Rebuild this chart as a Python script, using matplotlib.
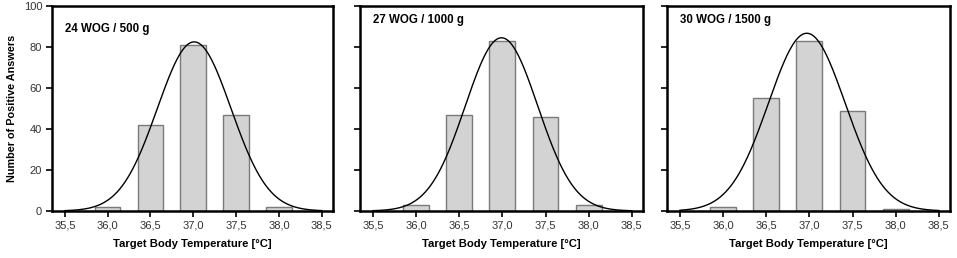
import numpy as np
import matplotlib.pyplot as plt

plt.rcParams['font.family'] = ['Liberation Sans', 'DejaVu Sans']

temps = [36.0, 36.5, 37.0, 37.5, 38.0]
counts_24 = [2, 42, 81, 47, 2]
counts_27 = [3, 47, 83, 46, 3]
counts_30 = [2, 55, 83, 49, 1]
panel_titles = ['24 WOG / 500 g', '27 WOG / 1000 g', '30 WOG / 1500 g']
# fitted normal curves: amplitude, mean, sigma
fit_amp = [82.5, 84.5, 86.7]
fit_mean = [37.01, 36.99, 36.97]
fit_sigma = [0.43, 0.42, 0.445]
xticks = [35.5, 36.0, 36.5, 37.0, 37.5, 38.0, 38.5]
yticks = [0, 20, 40, 60, 80, 100]

fig = plt.figure(figsize=(9.57, 2.58), dpi=100)
lefts = [0.0543, 0.3762, 0.697]
widths = [0.2936, 0.2957, 0.2957]
title_y = [89, 93, 93]

for i, counts in enumerate([counts_24, counts_27, counts_30]):
    ax = fig.add_axes([lefts[i], 0.1822, widths[i], 0.7946])
    ax.bar(temps, counts, width=0.3, color='#d3d3d3', edgecolor='#7a7a7a',
           linewidth=1.0, zorder=2)
    xs = np.linspace(35.5, 38.5, 300)
    ys = fit_amp[i] * np.exp(-(xs - fit_mean[i]) ** 2 / (2 * fit_sigma[i] ** 2))
    ax.plot(xs, ys, color='black', linewidth=1.0, zorder=3)

    ax.set_xlim(35.35, 38.63)
    ax.set_ylim(0, 100)
    ax.set_xticks(xticks)
    ax.set_xticklabels([('%.1f' % t).replace('.', ',') for t in xticks])
    ax.set_yticks(yticks)
    ax.tick_params(direction='out', length=4, width=1.2, colors='black',
                   labelsize=8, labelcolor='#333333', pad=3)
    for s in ax.spines.values():
        s.set_linewidth(1.8)
    if i == 0:
        ax.set_ylabel('Number of Positive Answers', fontsize=7.8,
                      fontweight='bold', labelpad=5)
    else:
        ax.set_yticklabels([])
    ax.set_xlabel('Target Body Temperature [°C]', fontsize=8.1,
                  fontweight='bold', labelpad=6)
    ax.text(35.5, title_y[i], panel_titles[i], fontsize=8.3,
            fontweight='bold', va='center', ha='left')

fig.savefig('out.png', dpi=100)
